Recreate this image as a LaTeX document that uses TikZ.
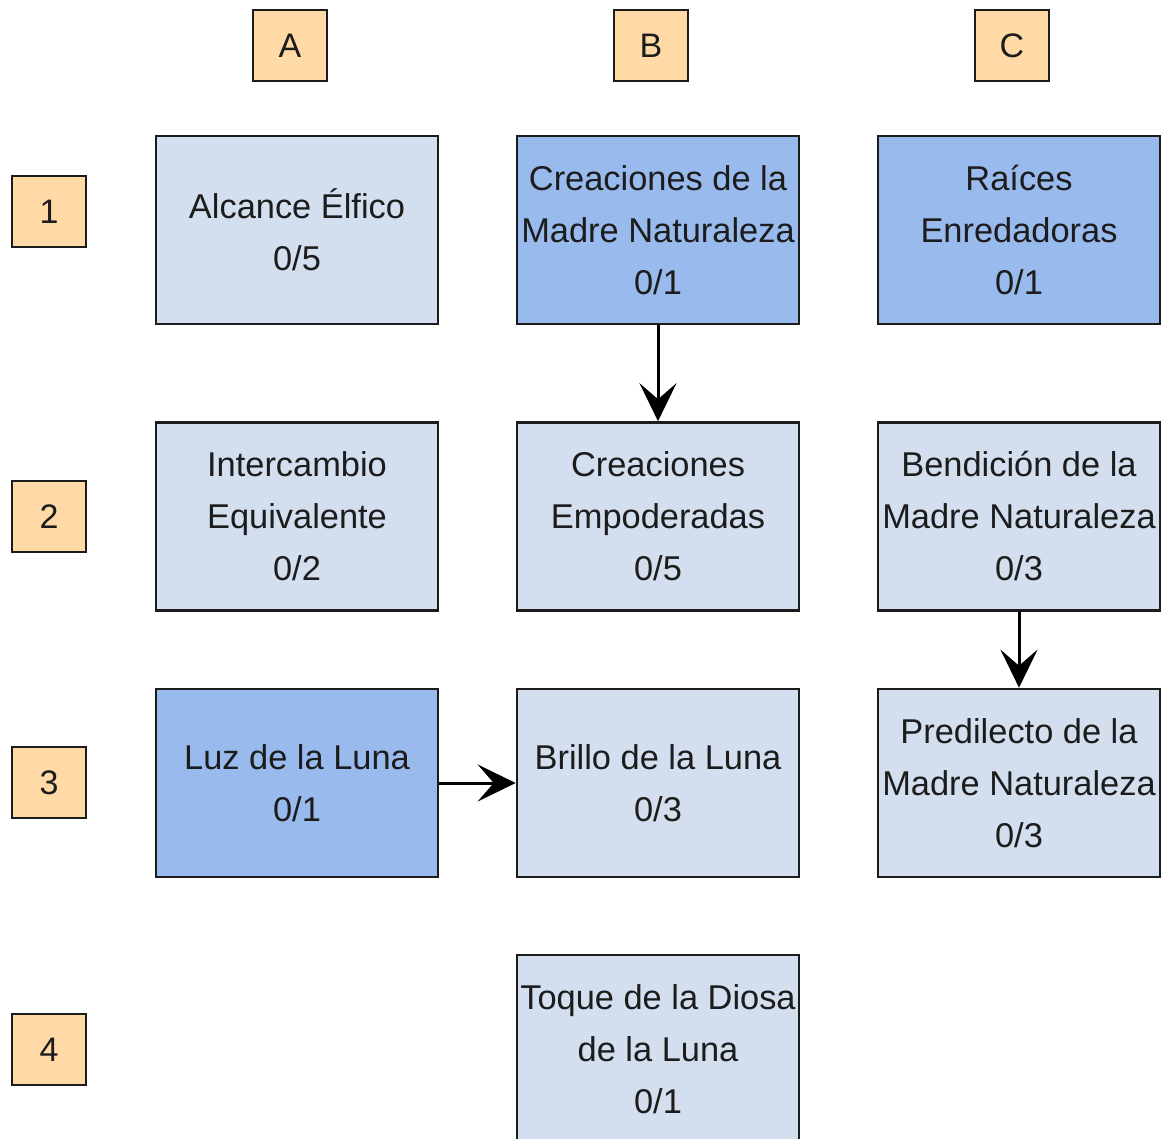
\documentclass[tikz,border=0pt]{standalone}
\usepackage{fontspec}
\setmainfont{Liberation Sans}
\usetikzlibrary{arrows.meta}
\definecolor{lightbox}{HTML}{D3DEEE}
\definecolor{darkbox}{HTML}{98BAEC}
\definecolor{labelbox}{HTML}{FFD9A6}
\definecolor{ink}{HTML}{1C1C1C}
\tikzset{
  cell/.style={draw=ink, line width=2.6pt, fill=lightbox, minimum width=282pt, minimum height=188pt,
    inner sep=0pt, align=center, text=ink, font=\fontsize{34.4}{52}\selectfont},
  hicell/.style={cell, fill=darkbox},
  tag/.style={draw=ink, line width=2.6pt, fill=labelbox, minimum width=74pt, minimum height=71pt,
    inner sep=0pt, text=ink, font=\fontsize{34}{40}\selectfont},
  conn/.style={line width=3pt, draw=black, -{Stealth[length=38pt,width=37pt,inset=16pt]}}
}
\begin{document}
\begin{tikzpicture}[x=1pt,y=-1pt]
\useasboundingbox (0,0) rectangle (1162,1139);
\fill[white] (0,0) rectangle (1162,1139);
% column tags
\node[tag] (tA) at (290,45.5) {A};
\node[tag] (tB) at (651,45.5) {B};
\node[tag] (tC) at (1012,45.5) {C};
% row tags
\node[tag] (t1) at (49,211.5) {1};
\node[tag] (t2) at (49,516.5) {2};
\node[tag] (t3) at (49,782.5) {3};
\node[tag] (t4) at (49,1049.5) {4};
% cells
\node[cell] (a1) at (297,230) {Alcance Élfico\\0/5};
\node[hicell] (b1) at (658,230) {Creaciones de la\\Madre Naturaleza\\0/1};
\node[hicell] (c1) at (1019,230) {Raíces\\Enredadoras\\0/1};
\node[cell] (a2) at (297,516.5) {Intercambio\\Equivalente\\0/2};
\node[cell] (b2) at (658,516.5) {Creaciones\\Empoderadas\\0/5};
\node[cell] (c2) at (1019,516.5) {Bendición de la\\Madre Naturaleza\\0/3};
\node[hicell] (a3) at (297,783) {Luz de la Luna\\0/1};
\node[cell] (b3) at (658,783) {Brillo de la Luna\\0/3};
\node[cell] (c3) at (1019,783) {Predilecto de la\\Madre Naturaleza\\0/3};
\node[cell] (b4) at (658,1049) {Toque de la Diosa\\de la Luna\\0/1};
% connectors
\draw[conn] (b1) -- (b2);
\draw[conn] (c2) -- (c3);
\draw[conn] (a3) -- (b3);
\end{tikzpicture}
\end{document}
